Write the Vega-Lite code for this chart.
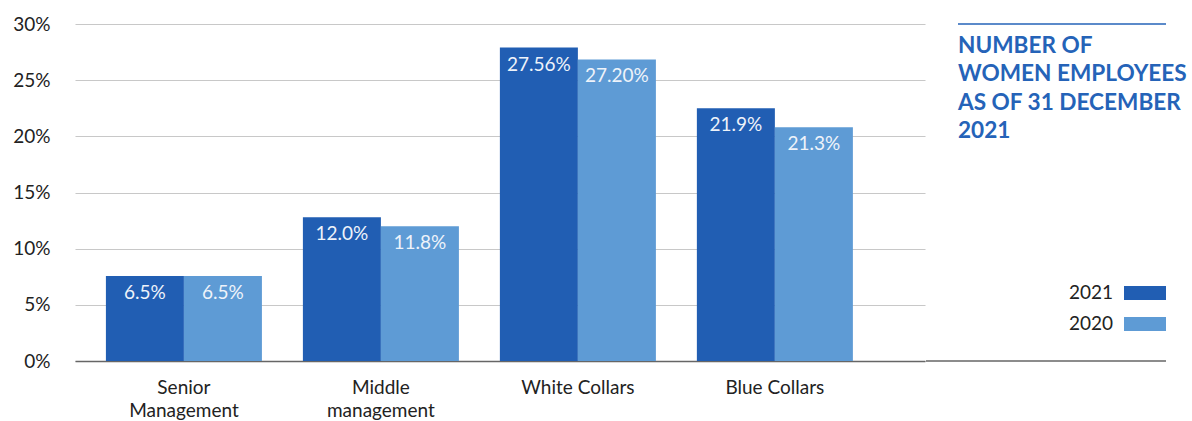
{
  "$schema": "https://vega.github.io/schema/vega-lite/v6.json",
  "background": "white",
  "padding": {"left": 12, "top": 15, "right": 0, "bottom": 0},
  "config": {
    "font": "Lato",
    "view": {"stroke": null},
    "axis": {"labelFont": "Lato", "labelColor": "#222222", "labelFontSize": 19, "title": null}
  },
  "datasets": {
    "bars": [
      {"category": "Senior Management", "year": "2021", "value": 7.56, "label": "6.5%"},
      {"category": "Senior Management", "year": "2020", "value": 7.56, "label": "6.5%"},
      {"category": "Middle management", "year": "2021", "value": 12.8, "label": "12.0%"},
      {"category": "Middle management", "year": "2020", "value": 12.0, "label": "11.8%"},
      {"category": "White Collars", "year": "2021", "value": 27.9, "label": "27.56%"},
      {"category": "White Collars", "year": "2020", "value": 26.84, "label": "27.20%"},
      {"category": "Blue Collars", "year": "2021", "value": 22.49, "label": "21.9%"},
      {"category": "Blue Collars", "year": "2020", "value": 20.8, "label": "21.3%"}
    ]
  },
  "spacing": 0,
  "resolve": {"scale": {"y": "shared"}},
  "hconcat": [
    {
      "width": 850,
      "height": 337,
      "data": {"name": "bars"},
      "encoding": {
        "x": {
          "field": "category", "type": "nominal", "sort": null,
          "scale": {"paddingInner": 0.208, "paddingOuter": 0.2615, "align": 0.3},
          "axis": {
            "labelAngle": 0, "ticks": false, "domainColor": "#666666", "domainWidth": 1.5,
            "labelPadding": 17, "labelLineHeight": 23,
            "labelExpr": "datum.label == 'Senior Management' ? ['Senior', 'Management'] : datum.label == 'Middle management' ? ['Middle', 'management'] : datum.label"
          }
        },
        "xOffset": {"field": "year", "type": "nominal", "sort": ["2021", "2020"], "scale": {"paddingInner": 0, "paddingOuter": 0}},
        "y": {
          "field": "value", "type": "quantitative",
          "scale": {"domain": [0, 30], "nice": false},
          "axis": {
            "values": [0, 5, 10, 15, 20, 25, 30], "labelExpr": "datum.value + '%'",
            "grid": true, "gridColor": "#c8c8c8", "gridWidth": 1.2, "domain": false, "ticks": false,
            "labelPadding": 25
          }
        }
      },
      "layer": [
        {
          "mark": {"type": "bar"},
          "encoding": {
            "color": {
              "field": "year", "type": "nominal", "sort": ["2021", "2020"],
              "scale": {"range": ["#215eb3", "#5e9bd5"]},
              "legend": {
                "orient": "none", "legendX": 1049, "legendY": 248, "title": null,
                "symbolType": "M-1,-0.3333H1V0.3333H-1Z", "symbolSize": 1764,
                "symbolStrokeWidth": 0, "symbolOpacity": 1,
                "labelAlign": "right", "labelOffset": -53, "labelFontSize": 19, "labelColor": "#222222",
                "rowPadding": 0
              }
            }
          }
        },
        {
          "mark": {"type": "text", "baseline": "middle", "dy": 17, "color": "#eef3fa", "fontSize": 19},
          "encoding": {"text": {"field": "label"}}
        }
      ]
    },
    {
      "width": 240,
      "height": 337,
      "data": {"values": [{}]},
      "layer": [
        {
          "mark": {"type": "rule", "color": "#666666", "strokeWidth": 1.5},
          "encoding": {"y": {"datum": 0, "type": "quantitative", "axis": null}}
        },
        {
          "mark": {"type": "rule", "color": "#2563b8", "strokeWidth": 1.5},
          "encoding": {
            "y": {"datum": 30, "type": "quantitative", "axis": null},
            "x": {"datum": 0, "type": "quantitative", "scale": {"domain": [0, 1], "range": [32, 240]}, "axis": null},
            "x2": {"datum": 1}
          }
        },
        {
          "mark": {"type": "text", "align": "left", "baseline": "top", "fontSize": 22.6, "fontWeight": "bold", "color": "#2563b8", "lineHeight": 28.3, "dy": 11},
          "encoding": {
            "x": {"datum": 0, "type": "quantitative", "axis": null},
            "y": {"datum": 30, "type": "quantitative", "axis": null},
            "text": {"value": ["NUMBER OF", "WOMEN EMPLOYEES", "AS OF 31 DECEMBER", "2021"]}
          }
        }
      ]
    }
  ]
}
